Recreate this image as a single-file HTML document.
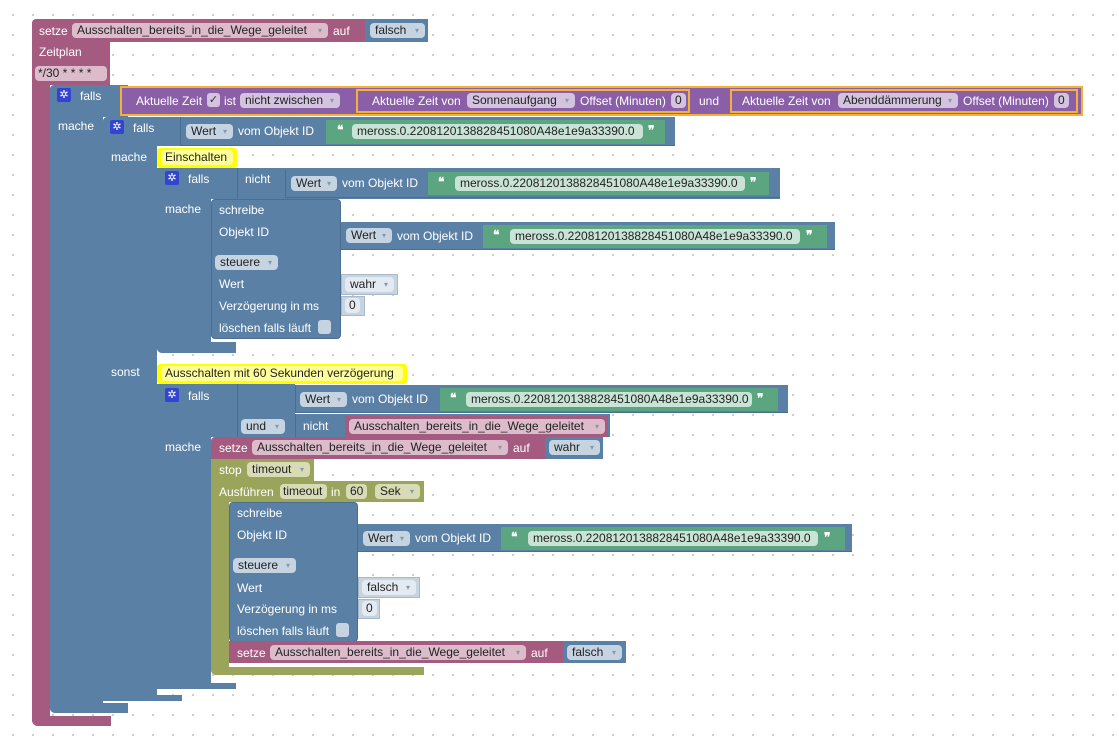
<!DOCTYPE html>
<html><head><meta charset="utf-8"><style>
body{margin:0;width:1119px;height:742px;overflow:hidden;background:#fff;
background-image:radial-gradient(circle,#c8c8c8 0.9px,transparent 1.3px);background-size:20px 20px;background-position:3px 5px;
font-family:"Liberation Sans",Arial,sans-serif;font-size:12px;position:relative}
div{position:absolute;box-sizing:border-box}
.bl{background:#5b80a5}.pk{background:#a55b80}.ol{background:#9aa55b}.gr{background:#5ba580}
.pu{background:#8a5fa8;border:2px solid #f4b13a}
.t{color:#fff;white-space:nowrap;line-height:14px}
.f{height:15px;line-height:15px;border-radius:4px;padding-left:5px;color:#222;white-space:nowrap}
.fb{background:#c6d3e1}.fp{background:#dcbccb}.fo{background:#d8dbb6}.fg{background:#c9e4d6}.fu{background:#d3c3df}
.a{color:#8899aa;font-size:8px;position:absolute;right:6px;top:0}
.gear{width:14px;height:14px;background:#3345d0;border-radius:2px;color:#fff;font-size:11px;line-height:14px;text-align:center}
.cb{width:13px;height:14px;background:#c6d3e1;border-radius:3px}
.sh{background:#c6d3e1;border:1px solid #aab8c8}
.ye{background:#ffff00;border-radius:3px}
</style></head><body>

<!-- top setze -->
<div class="pk" style="left:32px;top:19px;width:334px;height:23px;border-radius:4px 0 0 0"></div>
<div class="t" style="left:39px;top:24px">setze</div>
<div class="f fp" style="left:72px;top:23px;width:256px">Ausschalten_bereits_in_die_Wege_geleitet<span class="a">▾</span></div>
<div class="t" style="left:333px;top:24px">auf</div>
<div class="bl" style="left:365px;top:19px;width:63px;height:23px"></div>
<div class="f fb" style="left:370px;top:23px;width:55px">falsch<span class="a">▾</span></div>

<!-- Zeitplan -->
<div class="pk" style="left:32px;top:42px;width:78px;height:43px"></div>
<div class="pk" style="left:32px;top:85px;width:18px;height:641px;border-radius:0 0 0 6px"></div>
<div class="pk" style="left:32px;top:716px;width:79px;height:10px;border-radius:0 0 0 6px"></div>
<div class="t" style="left:39px;top:45px">Zeitplan</div>
<div class="f fp" style="left:35px;top:66px;width:72px;padding-left:3px">*/30 * * * * </div>

<!-- outer falls -->
<div class="bl" style="left:50px;top:85px;width:78px;height:32px;border-radius:4px 0 0 0"></div>
<div class="bl" style="left:50px;top:117px;width:53px;height:596px;border-radius:0 0 0 5px"></div>
<div class="bl" style="left:50px;top:703px;width:78px;height:10px;border-radius:0 0 0 5px"></div>
<div class="gear" style="left:57px;top:88px">✲</div>
<div class="t" style="left:80px;top:89px">falls</div>
<div class="t" style="left:58px;top:119px">mache</div>

<!-- purple condition -->
<div class="pu" style="left:120px;top:86px;width:963px;height:30px"></div>
<div class="t" style="left:136px;top:94px">Aktuelle Zeit</div>
<div class="cb" style="left:207px;top:93px;background:#d3c3df;color:#333;font-size:11px;line-height:14px;text-align:center">✓</div>
<div class="t" style="left:224px;top:94px">ist</div>
<div class="f fu" style="left:240px;top:93px;width:100px">nicht zwischen<span class="a">▾</span></div>
<div class="pu" style="left:356px;top:89px;width:334px;height:24px"></div>
<div class="t" style="left:372px;top:94px">Aktuelle Zeit von</div>
<div class="f fu" style="left:467px;top:93px;width:108px">Sonnenaufgang<span class="a">▾</span></div>
<div class="t" style="left:580px;top:94px">Offset (Minuten)</div>
<div class="f fu" style="left:671px;top:93px;width:15px;padding-left:4px">0</div>
<div class="t" style="left:699px;top:94px">und</div>
<div class="pu" style="left:730px;top:89px;width:348px;height:24px"></div>
<div class="t" style="left:742px;top:94px">Aktuelle Zeit von</div>
<div class="f fu" style="left:838px;top:93px;width:120px">Abenddämmerung<span class="a">▾</span></div>
<div class="t" style="left:963px;top:94px">Offset (Minuten)</div>
<div class="f fu" style="left:1054px;top:93px;width:15px;padding-left:4px">0</div>

<!-- second falls -->
<div class="bl" style="left:103px;top:117px;width:77px;height:29px;border-radius:4px 0 0 0"></div>
<div class="bl" style="left:103px;top:146px;width:54px;height:555px;border-radius:0 0 0 5px"></div>
<div class="bl" style="left:103px;top:695px;width:79px;height:6px"></div>
<div class="gear" style="left:110px;top:120px">✲</div>
<div class="t" style="left:133px;top:121px">falls</div>
<div class="t" style="left:111px;top:150px">mache</div>
<div class="t" style="left:111px;top:365px">sonst</div>
<div class="bl" style="left:180px;top:117px;width:495px;height:29px;border-left:1px solid #4a6d90;border-bottom:1px solid #4a6d90"></div>
<div class="f fb" style="left:186px;top:124px;width:47px">Wert<span class="a">▾</span></div>
<div class="t" style="left:238px;top:124px">vom Objekt ID</div>
<div class="gr" style="left:326px;top:120px;width:339px;height:24px"></div>
<div class="t" style="left:337px;top:123px;font-weight:bold">❝</div>
<div class="f fg" style="left:352px;top:124px;width:291px">meross.0.2208120138828451080A48e1e9a33390.0</div>
<div class="t" style="left:648px;top:123px;font-weight:bold">❞</div>

<!-- Einschalten comment -->
<div class="ye" style="left:157px;top:148px;width:80px;height:20px"></div>
<div class="f" style="left:161px;top:150px;width:72px;background:#ffff9a;padding-left:4px">Einschalten</div>

<!-- third falls -->
<div class="bl" style="left:157px;top:168px;width:80px;height:31px"></div>
<div class="bl" style="left:157px;top:199px;width:54px;height:154px;border-radius:0 0 0 5px"></div>
<div class="bl" style="left:157px;top:342px;width:79px;height:11px;border-radius:0 0 0 5px"></div>
<div class="gear" style="left:165px;top:171px">✲</div>
<div class="t" style="left:188px;top:172px">falls</div>
<div class="t" style="left:165px;top:202px">mache</div>
<div class="bl" style="left:237px;top:168px;width:543px;height:31px;border-left:1px solid #4a6d90"></div>
<div class="t" style="left:245px;top:172px">nicht</div>
<div class="bl" style="left:285px;top:170px;width:495px;height:28px;border-left:1px solid #4a6d90;border-bottom:1px solid #4a6d90"></div>
<div class="f fb" style="left:291px;top:176px;width:46px">Wert<span class="a">▾</span></div>
<div class="t" style="left:342px;top:176px">vom Objekt ID</div>
<div class="gr" style="left:428px;top:172px;width:341px;height:23px"></div>
<div class="t" style="left:438px;top:175px;font-weight:bold">❝</div>
<div class="f fg" style="left:455px;top:176px;width:290px">meross.0.2208120138828451080A48e1e9a33390.0</div>
<div class="t" style="left:750px;top:175px;font-weight:bold">❞</div>

<!-- schreibe 1 -->
<div class="bl" style="left:211px;top:199px;width:130px;height:140px;border-radius:4px;border:1px solid #4a6d90"></div>
<div class="t" style="left:219px;top:203px">schreibe</div>
<div class="t" style="left:219px;top:225px">Objekt ID</div>
<div class="f fb" style="left:215px;top:255px;width:63px">steuere<span class="a">▾</span></div>
<div class="t" style="left:219px;top:277px">Wert</div>
<div class="t" style="left:219px;top:299px">Verzögerung in ms</div>
<div class="t" style="left:219px;top:321px">löschen falls läuft</div>
<div class="cb" style="left:318px;top:320px"></div>
<div class="bl" style="left:341px;top:222px;width:494px;height:28px;border-bottom:1px solid #4a6d90"></div>
<div class="f fb" style="left:346px;top:228px;width:46px">Wert<span class="a">▾</span></div>
<div class="t" style="left:397px;top:229px">vom Objekt ID</div>
<div class="gr" style="left:483px;top:225px;width:344px;height:23px"></div>
<div class="t" style="left:493px;top:228px;font-weight:bold">❝</div>
<div class="f fg" style="left:510px;top:229px;width:290px">meross.0.2208120138828451080A48e1e9a33390.0</div>
<div class="t" style="left:806px;top:228px;font-weight:bold">❞</div>
<div class="sh" style="left:341px;top:274px;width:57px;height:21px"></div>
<div class="f" style="left:345px;top:277px;width:49px;background:#e4eaf1">wahr<span class="a">▾</span></div>
<div class="sh" style="left:341px;top:296px;width:24px;height:20px"></div>
<div class="f" style="left:345px;top:298px;width:15px;background:#e4eaf1;padding-left:4px">0</div>

<!-- comment 2 -->
<div class="ye" style="left:157px;top:364px;width:250px;height:20px"></div>
<div class="f" style="left:161px;top:366px;width:242px;background:#ffff9a;padding-left:4px">Ausschalten mit 60 Sekunden verzögerung</div>

<!-- fourth falls -->
<div class="bl" style="left:157px;top:384px;width:80px;height:53px"></div>
<div class="bl" style="left:157px;top:437px;width:54px;height:252px;border-radius:0 0 0 5px"></div>
<div class="bl" style="left:157px;top:683px;width:79px;height:6px"></div>
<div class="gear" style="left:165px;top:388px">✲</div>
<div class="t" style="left:188px;top:389px">falls</div>
<div class="t" style="left:165px;top:440px">mache</div>
<div class="bl" style="left:237px;top:384px;width:58px;height:53px;border-left:1px solid #4a6d90"></div>
<div class="f fb" style="left:241px;top:419px;width:44px">und<span class="a">▾</span></div>
<div class="bl" style="left:295px;top:385px;width:493px;height:28px;border-left:1px solid #4a6d90;border-bottom:1px solid #4a6d90"></div>
<div class="f fb" style="left:300px;top:392px;width:47px">Wert<span class="a">▾</span></div>
<div class="t" style="left:352px;top:392px">vom Objekt ID</div>
<div class="gr" style="left:440px;top:388px;width:338px;height:23px"></div>
<div class="t" style="left:450px;top:391px;font-weight:bold">❝</div>
<div class="f fg" style="left:466px;top:392px;width:286px">meross.0.2208120138828451080A48e1e9a33390.0</div>
<div class="t" style="left:757px;top:391px;font-weight:bold">❞</div>
<div class="bl" style="left:295px;top:414px;width:315px;height:23px;border-left:1px solid #4a6d90"></div>
<div class="t" style="left:303px;top:419px">nicht</div>
<div class="pk" style="left:345px;top:416px;width:263px;height:21px"></div>
<div class="f fp" style="left:349px;top:419px;width:256px">Ausschalten_bereits_in_die_Wege_geleitet<span class="a">▾</span></div>

<!-- setze wahr -->
<div class="pk" style="left:211px;top:437px;width:334px;height:22px;border-radius:4px 0 0 0"></div>
<div class="t" style="left:219px;top:441px">setze</div>
<div class="f fp" style="left:252px;top:440px;width:256px">Ausschalten_bereits_in_die_Wege_geleitet<span class="a">▾</span></div>
<div class="t" style="left:513px;top:441px">auf</div>
<div class="bl" style="left:545px;top:437px;width:58px;height:22px"></div>
<div class="f fb" style="left:549px;top:440px;width:51px">wahr<span class="a">▾</span></div>

<!-- stop -->
<div class="ol" style="left:211px;top:459px;width:103px;height:22px"></div>
<div class="t" style="left:219px;top:463px">stop</div>
<div class="f fo" style="left:247px;top:462px;width:63px">timeout<span class="a">▾</span></div>

<!-- Ausführen -->
<div class="ol" style="left:211px;top:481px;width:213px;height:21px"></div>
<div class="ol" style="left:211px;top:502px;width:18px;height:173px;border-radius:0 0 0 5px"></div>
<div class="ol" style="left:211px;top:667px;width:213px;height:8px;border-radius:0 0 0 5px"></div>
<div class="t" style="left:219px;top:485px">Ausführen</div>
<div class="f fo" style="left:280px;top:484px;width:47px;padding-left:3px">timeout</div>
<div class="t" style="left:331px;top:485px">in</div>
<div class="f fo" style="left:346px;top:484px;width:21px;padding-left:4px">60</div>
<div class="f fo" style="left:375px;top:484px;width:45px">Sek<span class="a">▾</span></div>

<!-- schreibe 2 -->
<div class="bl" style="left:229px;top:502px;width:129px;height:140px;border-radius:4px;border:1px solid #4a6d90"></div>
<div class="t" style="left:237px;top:506px">schreibe</div>
<div class="t" style="left:237px;top:528px">Objekt ID</div>
<div class="f fb" style="left:233px;top:558px;width:63px">steuere<span class="a">▾</span></div>
<div class="t" style="left:237px;top:581px">Wert</div>
<div class="t" style="left:237px;top:602px">Verzögerung in ms</div>
<div class="t" style="left:237px;top:624px">löschen falls läuft</div>
<div class="cb" style="left:336px;top:623px"></div>
<div class="bl" style="left:358px;top:524px;width:494px;height:28px;border-bottom:1px solid #4a6d90"></div>
<div class="f fb" style="left:363px;top:531px;width:47px">Wert<span class="a">▾</span></div>
<div class="t" style="left:415px;top:531px">vom Objekt ID</div>
<div class="gr" style="left:501px;top:527px;width:344px;height:23px"></div>
<div class="t" style="left:511px;top:530px;font-weight:bold">❝</div>
<div class="f fg" style="left:528px;top:531px;width:290px">meross.0.2208120138828451080A48e1e9a33390.0</div>
<div class="t" style="left:824px;top:530px;font-weight:bold">❞</div>
<div class="sh" style="left:358px;top:577px;width:62px;height:21px"></div>
<div class="f" style="left:362px;top:580px;width:54px;background:#e4eaf1">falsch<span class="a">▾</span></div>
<div class="sh" style="left:358px;top:599px;width:22px;height:20px"></div>
<div class="f" style="left:362px;top:601px;width:15px;background:#e4eaf1;padding-left:4px">0</div>

<!-- setze falsch -->
<div class="pk" style="left:229px;top:641px;width:334px;height:22px"></div>
<div class="t" style="left:237px;top:646px">setze</div>
<div class="f fp" style="left:270px;top:645px;width:256px">Ausschalten_bereits_in_die_Wege_geleitet<span class="a">▾</span></div>
<div class="t" style="left:531px;top:646px">auf</div>
<div class="bl" style="left:563px;top:641px;width:63px;height:22px"></div>
<div class="f fb" style="left:567px;top:645px;width:55px">falsch<span class="a">▾</span></div>

</body></html>
